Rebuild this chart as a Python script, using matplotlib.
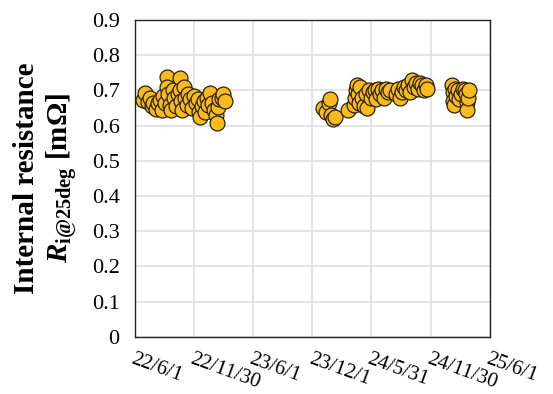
import matplotlib
matplotlib.use("Agg")
import matplotlib.pyplot as plt
import pandas as pd

plt.rcParams["font.family"] = ["Liberation Serif", "DejaVu Serif"]
plt.rcParams["mathtext.fontset"] = "custom"
plt.rcParams["mathtext.rm"] = "Liberation Serif:bold"
plt.rcParams["mathtext.it"] = "Liberation Serif:bold:italic"
plt.rcParams["mathtext.bf"] = "Liberation Serif:bold"

# medições (data, resistência interna em mOhm)
datas = [
    # 1o bloco 2022-2023
    "2022-06-26", "2022-07-02", "2022-07-11", "2022-07-17", "2022-07-23", "2022-07-27",
    "2022-08-05", "2022-08-11", "2022-08-17", "2022-08-23", "2022-08-26", "2022-09-02",
    "2022-09-08", "2022-09-08", "2022-09-11", "2022-09-17", "2022-09-20", "2022-09-26",
    "2022-09-29", "2022-10-06", "2022-10-12", "2022-10-18", "2022-10-18", "2022-10-21",
    "2022-10-24", "2022-10-30", "2022-11-02", "2022-11-09", "2022-11-12", "2022-11-18",
    "2022-11-24", "2022-11-30", "2022-12-06", "2022-12-12", "2022-12-16", "2022-12-19",
    "2022-12-25", "2022-12-31", "2023-01-03", "2023-01-09", "2023-01-12", "2023-01-19",
    "2023-01-25", "2023-01-31", "2023-02-06", "2023-02-09", "2023-02-12", "2023-02-15",
    "2023-02-25", "2023-02-28", "2023-03-06",
    # 2o bloco 2024
    "2024-01-02", "2024-01-12", "2024-01-21", "2024-01-24", "2024-01-27", "2024-02-02",
    "2024-02-08", "2024-03-19", "2024-04-07", "2024-04-10", "2024-04-13", "2024-04-16",
    "2024-04-19", "2024-04-22", "2024-04-25", "2024-05-02", "2024-05-08", "2024-05-14",
    "2024-05-17", "2024-05-23", "2024-05-29", "2024-06-05", "2024-06-11", "2024-06-14",
    "2024-06-20", "2024-06-26", "2024-07-02", "2024-07-09", "2024-07-15", "2024-07-21",
    "2024-07-27", "2024-08-15", "2024-08-21", "2024-08-27", "2024-09-02", "2024-09-09",
    "2024-09-15", "2024-09-21", "2024-09-27", "2024-10-03", "2024-10-09", "2024-10-15",
    "2024-10-22", "2024-10-28", "2024-11-03", "2024-11-09", "2024-11-15", "2024-11-18",
    # 3o bloco 2025
    "2025-02-04", "2025-02-07", "2025-02-07", "2025-02-10", "2025-02-13", "2025-02-16",
    "2025-02-22", "2025-02-25", "2025-03-03", "2025-03-10", "2025-03-16", "2025-03-19",
    "2025-03-22", "2025-03-22", "2025-03-25", "2025-03-28",
]
resistencia = [
    0.673, 0.693, 0.668, 0.679, 0.655, 0.665,
    0.648, 0.665, 0.672, 0.645, 0.685, 0.665,
    0.739, 0.710, 0.690, 0.660, 0.645, 0.700,
    0.680, 0.655, 0.690, 0.736, 0.700, 0.670,
    0.645, 0.710, 0.680, 0.660, 0.690, 0.675,
    0.650, 0.685, 0.665, 0.675, 0.640, 0.625,
    0.655, 0.670, 0.640, 0.680, 0.660, 0.693,
    0.665, 0.645, 0.630, 0.608, 0.653, 0.675,
    0.680, 0.690, 0.670,
    0.650, 0.640, 0.665, 0.675, 0.630, 0.620,
    0.625, 0.645, 0.660, 0.680, 0.700, 0.715,
    0.690, 0.665, 0.710, 0.680, 0.655, 0.690,
    0.650, 0.700, 0.680, 0.695, 0.700, 0.675,
    0.705, 0.690, 0.700, 0.680, 0.705, 0.695,
    0.700, 0.690, 0.705, 0.680, 0.695, 0.710,
    0.700, 0.715, 0.695, 0.730, 0.710, 0.720,
    0.705, 0.720, 0.715, 0.700, 0.715, 0.705,
    0.715, 0.695, 0.670, 0.660, 0.705, 0.685,
    0.700, 0.675, 0.690, 0.705, 0.700, 0.690,
    0.668, 0.645, 0.680, 0.700,
]

ticks_x = ["2022-06-01", "2022-11-30", "2023-06-01", "2023-12-01",
           "2024-05-31", "2024-11-30", "2025-06-01"]
rotulos_x = ["22/6/1", "22/11/30", "23/6/1", "23/12/1", "24/5/31", "24/11/30", "25/6/1"]
ticks_y = [0, 0.1, 0.2, 0.3, 0.4, 0.5, 0.6, 0.7, 0.8, 0.9]

fig = plt.figure(figsize=(5.53, 3.94), dpi=100)
ax = fig.add_axes([0.244, 0.145, 0.642, 0.804])

ax.scatter(pd.to_datetime(datas), resistencia, s=115, c="#F8BA1D",
           edgecolors="#2b2110", linewidths=0.9, zorder=3)

ax.set_xlim(pd.Timestamp(ticks_x[0]), pd.Timestamp(ticks_x[-1]))
ax.set_ylim(0, 0.9)
ax.set_xticks(pd.to_datetime(ticks_x))
ax.set_xticklabels(rotulos_x, rotation=-20, ha="left", va="top",
                   rotation_mode="anchor", fontsize=15)
ax.set_yticks(ticks_y)
ax.set_yticklabels([f"{v:g}" for v in ticks_y], fontsize=16)
ax.tick_params(axis="both", length=0)
ax.tick_params(axis="x", pad=9)
ax.tick_params(axis="y", pad=11)

ax.grid(True, color="#e0e0e0", linewidth=1.2, zorder=0)
ax.set_axisbelow(True)
for sp in ax.spines.values():
    sp.set_color("#262626")
    sp.set_linewidth(1.0)

ax.set_ylabel("Internal resistance\n$R_{\\mathrm{i@25deg}}$ [m\u03a9]",
              fontsize=21, fontweight="bold", labelpad=9, linespacing=1.2)

fig.savefig("out.png", dpi=100)
